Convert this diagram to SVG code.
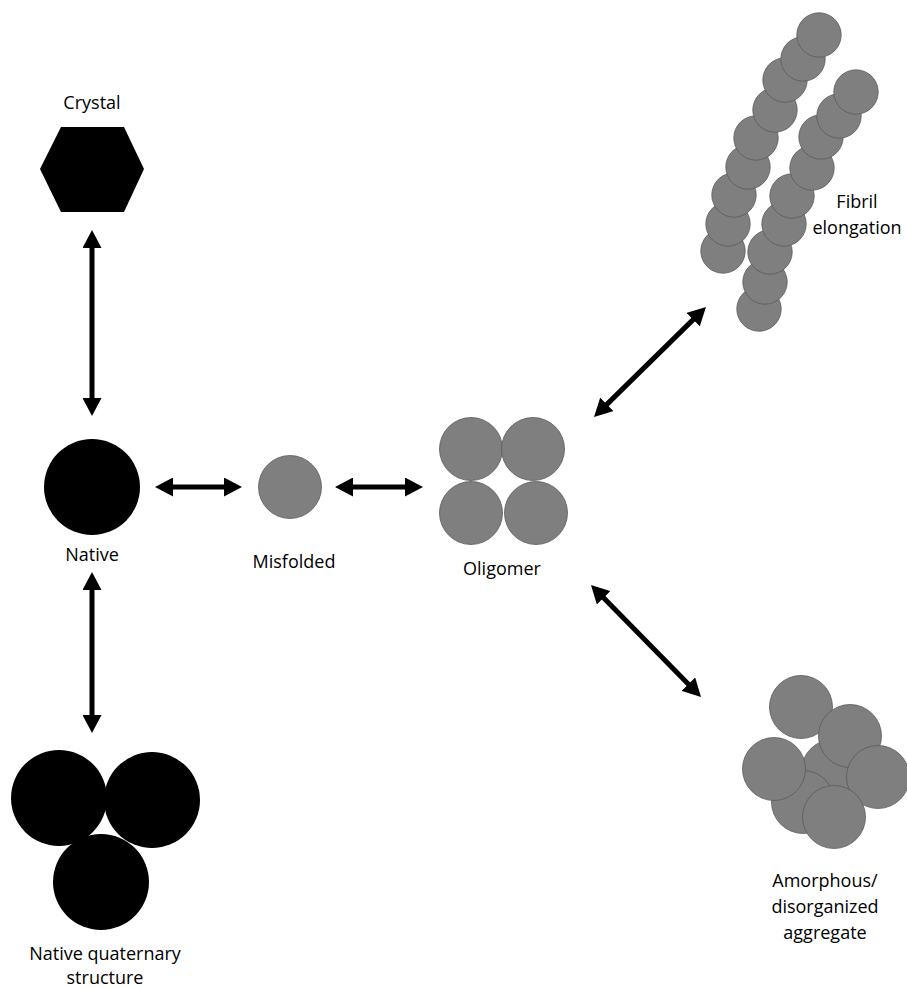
<svg xmlns="http://www.w3.org/2000/svg" width="907" height="989" viewBox="0 0 907 989">
  <defs>
    <style>
      .lbl { font-family: "Open Sans", "Liberation Sans", sans-serif; font-size: 18px; fill: #000; text-anchor: middle; }
      .blk { fill: #000; }
      .gry { fill: #7f7f7f; stroke: #5a5a5a; stroke-width: 0.8; }
      .conn { stroke: #000; stroke-width: 5; fill: none; marker-start: url(#ah); marker-end: url(#ah); }
    </style>
    <marker id="ah" markerUnits="userSpaceOnUse" markerWidth="18" markerHeight="19" refX="5" refY="9.5" orient="auto-start-reverse" viewBox="0 0 18 19">
      <path d="M0,0 L18,9.5 L0,19 z" fill="#000"/>
    </marker>
  </defs>
  <rect width="907" height="989" fill="#fff"/>

  <g id="crystal">
    <polygon class="blk" points="61,127 124,127 144,169 124,212 61,212 40,169"/>
    <text class="lbl" x="92" y="109">Crystal</text>
  </g>

  <g id="native">
    <circle class="blk" cx="92" cy="487" r="48"/>
    <text class="lbl" x="92" y="561">Native</text>
  </g>

  <g id="native-quaternary">
    <circle class="blk" cx="59" cy="798" r="48"/>
    <circle class="blk" cx="152" cy="800" r="48"/>
    <circle class="blk" cx="101" cy="882" r="48"/>
    <text class="lbl" x="105" y="960">Native quaternary</text>
    <text class="lbl" x="105" y="984">structure</text>
  </g>

  <g id="misfolded">
    <circle class="gry" cx="290" cy="487" r="31.5"/>
    <text class="lbl" x="294" y="568">Misfolded</text>
  </g>

  <g id="oligomer">
    <circle class="gry" cx="471" cy="449" r="31.5"/>
    <circle class="gry" cx="533" cy="449" r="31.5"/>
    <circle class="gry" cx="471" cy="513" r="31.5"/>
    <circle class="gry" cx="536" cy="513" r="31.5"/>
    <text class="lbl" x="502" y="575">Oligomer</text>
  </g>

  <g id="fibril">
    <circle class="gry" cx="759" cy="309" r="22.2"/>
    <circle class="gry" cx="765" cy="282" r="22.2"/>
    <circle class="gry" cx="770" cy="252" r="22.2"/>
    <circle class="gry" cx="784" cy="224" r="22.2"/>
    <circle class="gry" cx="792" cy="196" r="22.2"/>
    <circle class="gry" cx="812" cy="168" r="22.2"/>
    <circle class="gry" cx="821" cy="137" r="22.2"/>
    <circle class="gry" cx="839" cy="116" r="22.2"/>
    <circle class="gry" cx="856" cy="92" r="22.2"/>
    <circle class="gry" cx="723" cy="251" r="22.2"/>
    <circle class="gry" cx="728" cy="224" r="22.2"/>
    <circle class="gry" cx="734" cy="195" r="22.2"/>
    <circle class="gry" cx="748" cy="167" r="22.2"/>
    <circle class="gry" cx="756" cy="138" r="22.2"/>
    <circle class="gry" cx="775" cy="110" r="22.2"/>
    <circle class="gry" cx="785" cy="80" r="22.2"/>
    <circle class="gry" cx="803" cy="59" r="22.2"/>
    <circle class="gry" cx="819" cy="35" r="22.2"/>
    <text class="lbl" x="857" y="208">Fibril</text>
    <text class="lbl" x="857" y="234">elongation</text>
  </g>

  <g id="amorphous">
    <circle class="gry" cx="833" cy="771" r="31.5"/>
    <circle class="gry" cx="803" cy="802" r="31.5"/>
    <circle class="gry" cx="801" cy="707" r="31.5"/>
    <circle class="gry" cx="850" cy="736" r="31.5"/>
    <circle class="gry" cx="774" cy="769" r="31.5"/>
    <circle class="gry" cx="878" cy="777" r="31.5"/>
    <circle class="gry" cx="834" cy="817" r="31.5"/>
    <text class="lbl" x="825" y="887">Amorphous/</text>
    <text class="lbl" x="825" y="913">disorganized</text>
    <text class="lbl" x="825" y="939">aggregate</text>
  </g>

  <g id="connectors">
    <line class="conn" x1="92" y1="243" x2="92" y2="403"/>
    <line class="conn" x1="92" y1="585" x2="92" y2="720"/>
    <line class="conn" x1="168" y1="487" x2="229" y2="487"/>
    <line class="conn" x1="348" y1="487" x2="410" y2="487"/>
    <line class="conn" x1="696.7" y1="316.1" x2="603.3" y2="407.9"/>
    <line class="conn" x1="600.1" y1="594.3" x2="691.9" y2="687.7"/>
  </g>
</svg>
